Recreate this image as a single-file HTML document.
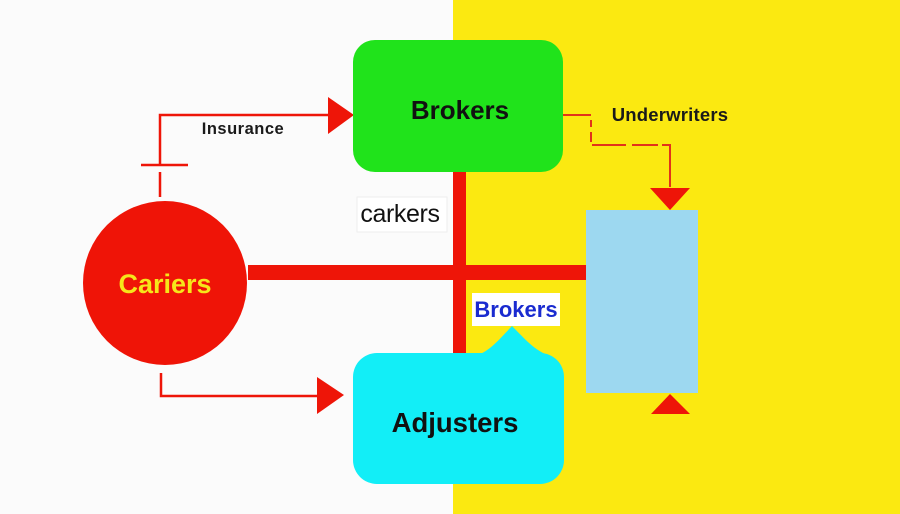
<!DOCTYPE html>
<html><head><meta charset="utf-8"><style>
html,body{margin:0;padding:0;background:#fbfbfb;}
svg{display:block;}
text{font-family:"Liberation Sans",Arial,sans-serif;}
</style></head><body>
<svg width="900" height="514" viewBox="0 0 900 514" xmlns="http://www.w3.org/2000/svg">
<rect x="0" y="0" width="900" height="514" fill="#fbfbfb"/>
<rect x="453" y="0" width="447" height="514" fill="#fbe911"/>

<!-- red cross lines -->
<rect x="453" y="172" width="13" height="182" fill="#ee1508"/>
<rect x="248" y="265" width="338" height="15" fill="#ee1508"/>

<!-- Insurance connector -->
<polyline points="160,197 160,115 330,115" fill="none" stroke="#ee1508" stroke-width="2.5"/>
<rect x="150" y="166" width="30" height="6" fill="#fbfbfb"/>
<line x1="141" y1="165" x2="188" y2="165" stroke="#ee1508" stroke-width="2.5"/>
<polygon points="328,97 328,134 354,115" fill="#ee1508"/>
<text x="243" y="134" font-size="16.5" font-weight="bold" fill="#1a1a1a" text-anchor="middle" letter-spacing="0.5">Insurance</text>

<!-- bottom connector -->
<polyline points="161,373 161,396 320,396" fill="none" stroke="#ee1508" stroke-width="2.5"/>
<polygon points="317,377 317,414 344,395" fill="#ee1508"/>

<!-- Carriers circle -->
<circle cx="165" cy="283" r="82" fill="#ef1407"/>
<text x="165" y="293" font-size="27" font-weight="bold" fill="#f6e61a" text-anchor="middle">Cariers</text>

<!-- Brokers green box -->
<rect x="353" y="40" width="210" height="132" rx="22" ry="22" fill="#20e31b"/>
<text x="460" y="119" font-size="26" font-weight="bold" fill="#111" text-anchor="middle">Brokers</text>

<!-- carkers label -->
<rect x="357" y="197" width="90" height="35" fill="#ffffff" stroke="#eeeeee" stroke-width="1"/>
<text x="400" y="222" font-size="25" fill="#111" text-anchor="middle" letter-spacing="-0.4">carkers</text>

<!-- Underwriters dashed connector -->
<polyline points="563,115 591,115 591,145 670,145 670,190" fill="none" stroke="#e2321a" stroke-width="2" stroke-dasharray="28,5,7,5,10,4,34,6,26,4,50"/>
<text x="670" y="121" font-size="18.5" font-weight="bold" fill="#1a1a1a" text-anchor="middle" letter-spacing="0.2">Underwriters</text>
<polygon points="650,188 690,188 670,210" fill="#ee1508"/>

<!-- blue rect -->
<rect x="586" y="210" width="112" height="183" fill="#9dd8f0"/>
<polygon points="651,414 690,414 670,394" fill="#ee1508"/>

<!-- Adjusters bubble -->
<rect x="353" y="353" width="211" height="131" rx="24" ry="24" fill="#12eef7"/>
<path d="M478,355 C490,350 497,342 512,326 C526,340 534,350 550,356 Z" fill="#12eef7"/>
<text x="455" y="432" font-size="27.5" font-weight="bold" fill="#111" text-anchor="middle">Adjusters</text>

<!-- Brokers blue label -->
<rect x="472" y="293" width="88" height="33" fill="#ffffff"/>
<text x="516" y="317" font-size="22" font-weight="bold" fill="#1a2bd0" text-anchor="middle">Brokers</text>
</svg>
</body></html>
